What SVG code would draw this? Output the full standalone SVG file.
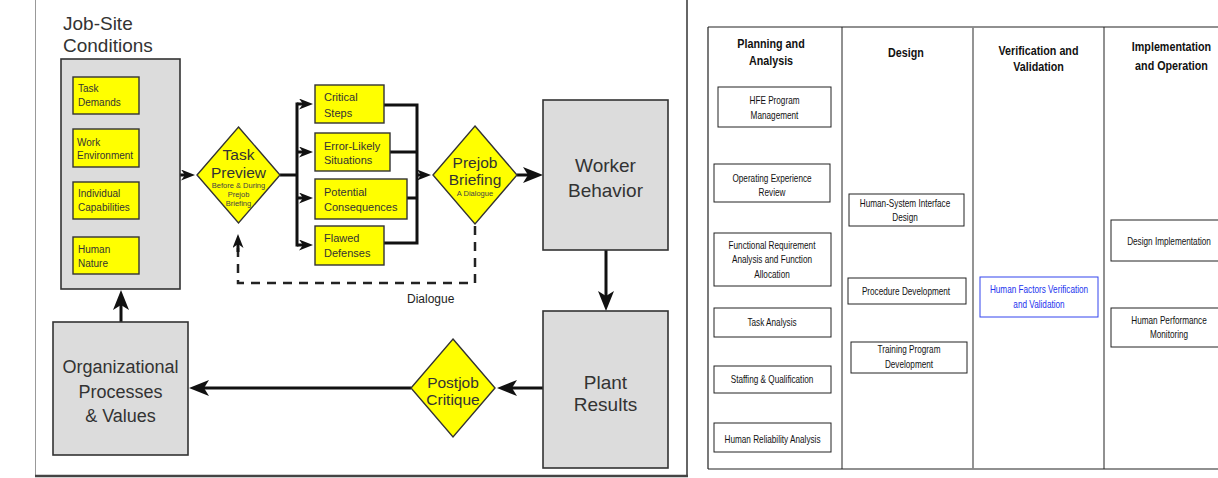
<svg xmlns="http://www.w3.org/2000/svg" width="1218" height="478" viewBox="0 0 1218 478">
  <style>
    .gray { fill: #dcdcdc; stroke: #333; stroke-width: 1.6; }
    .yel { fill: #ffff00; stroke: #333; stroke-width: 1.4; }
    .big { font-family: "Liberation Sans", Arial, sans-serif; font-size: 19px; fill: #333; }
    .big2 { font-family: "Liberation Sans", Arial, sans-serif; font-size: 18px; fill: #333; }
    .mid { font-family: "Liberation Sans", Arial, sans-serif; font-size: 15.5px; fill: #333; }
    .sm { font-family: "Liberation Sans", Arial, sans-serif; font-size: 10px; fill: #333; }
    .sm2 { font-family: "Liberation Sans", Arial, sans-serif; font-size: 11px; fill: #333; }
    .tiny { font-family: "Liberation Sans", Arial, sans-serif; font-size: 7.5px; fill: #444; }
    .lbl { font-family: "Liberation Sans", Arial, sans-serif; font-size: 12px; fill: #222; }
    .wire { fill: none; stroke: #111; stroke-width: 3; }
    .dash { fill: none; stroke: #222; stroke-width: 2.5; stroke-dasharray: 9 7; }
    .cell { fill: #fff; stroke: #222; stroke-width: 1; }
    .cellb { fill: #fff; stroke: #3344ee; stroke-width: 1; }
    .hd { font-family: "Liberation Sans", Arial, sans-serif; font-size: 12.5px; font-weight: bold; fill: #111; text-anchor: middle; }
    .bt { font-family: "Liberation Sans", Arial, sans-serif; font-size: 10px; fill: #111; text-anchor: middle; }
    .btb { font-family: "Liberation Sans", Arial, sans-serif; font-size: 10px; fill: #2233ee; text-anchor: middle; }
    .c { text-anchor: middle; }
  </style>
  <defs>
    <marker id="ah" markerUnits="userSpaceOnUse" markerWidth="20" markerHeight="16" viewBox="0 0 20 16" refX="12" refY="8" orient="auto">
      <path d="M0,0 L20,8 L0,16 L5,8 z" fill="#111"/>
    </marker>
    <marker id="ahs" markerUnits="userSpaceOnUse" markerWidth="14" markerHeight="11" viewBox="0 0 14 11" refX="8" refY="5.5" orient="auto">
      <path d="M0,0 L14,5.5 L0,11 L4,5.5 z" fill="#111"/>
    </marker>
  </defs>

  <rect width="1218" height="478" fill="#fff"/>

  <!-- left panel frame -->
  <g id="left-frame">
    <line x1="35.5" y1="0" x2="35.5" y2="477" stroke="#999" stroke-width="1"/>
    <line x1="687" y1="0" x2="687" y2="477" stroke="#333" stroke-width="1.5"/>
    <line x1="35" y1="476" x2="688" y2="476" stroke="#444" stroke-width="2.5"/>
  </g>

  <!-- connectors -->
  <g id="connectors">
    <path class="wire" d="M139,95 H167 M139,148 H167 M139,200 H167 M139,255 H167 M167,93.5 V256.5"/>
    <path class="wire" d="M167,175 H189" marker-end="url(#ahs)"/>
    <path class="wire" d="M280,175 H297 M297,102.5 V246.5"/>
    <path class="wire" d="M297,104 H307" marker-end="url(#ahs)"/>
    <path class="wire" d="M297,152 H307" marker-end="url(#ahs)"/>
    <path class="wire" d="M297,198 H307" marker-end="url(#ahs)"/>
    <path class="wire" d="M297,245 H307" marker-end="url(#ahs)"/>
    <path class="wire" d="M384,105 H417 M390,152 H417 M407,198 H417 M384,243 H417 M417,103.5 V244.5"/>
    <path class="wire" d="M417,175 H425" marker-end="url(#ahs)"/>
    <path class="wire" d="M517,175 H535" marker-end="url(#ah)"/>
    <path class="wire" d="M606,250 V303" marker-end="url(#ah)"/>
    <path class="wire" d="M543,388 H505" marker-end="url(#ah)"/>
    <path class="wire" d="M411,388 H197" marker-end="url(#ah)"/>
    <path class="wire" d="M121,322 V298" marker-end="url(#ah)"/>
    <path class="dash" d="M475,226 V283 H238 V245"/>
    <path class="wire" d="M238,252 V240" marker-end="url(#ahs)"/>
    <text class="lbl" x="407" y="303">Dialogue</text>
  </g>

  <!-- Job-Site Conditions container -->
  <g id="job-site">
    <text class="big" x="63" y="30">Job-Site</text>
    <text class="big" x="63" y="52">Conditions</text>
    <rect class="gray" x="61" y="59" width="119" height="230"/>
  </g>
  <g id="task-demands">
    <rect class="yel" x="73" y="77" width="66" height="37"/>
    <text class="sm" x="78" y="92">Task</text>
    <text class="sm" x="78" y="106">Demands</text>
  </g>
  <g id="work-environment">
    <rect class="yel" x="73" y="129" width="66" height="38"/>
    <text class="sm" x="77" y="145.5">Work</text>
    <text class="sm" x="77" y="159">Environment</text>
  </g>
  <g id="individual-capabilities">
    <rect class="yel" x="73" y="182" width="66" height="37"/>
    <text class="sm" x="78" y="197">Individual</text>
    <text class="sm" x="78" y="211">Capabilities</text>
  </g>
  <g id="human-nature">
    <rect class="yel" x="73" y="237" width="66" height="37"/>
    <text class="sm" x="78" y="253">Human</text>
    <text class="sm" x="78" y="267">Nature</text>
  </g>

  <!-- Task Preview decision -->
  <g id="task-preview">
    <polygon class="yel" points="238.5,127 280,175 238.5,223 197,175"/>
    <text class="mid c" x="238.5" y="160">Task</text>
    <text class="mid c" x="238.5" y="178">Preview</text>
    <text class="tiny c" x="238.5" y="188">Before &amp; During</text>
    <text class="tiny c" x="238.5" y="197">Prejob</text>
    <text class="tiny c" x="238.5" y="206">Briefing</text>
  </g>

  <!-- precursor boxes -->
  <g id="critical-steps">
    <rect class="yel" x="315" y="85" width="69" height="38"/>
    <text class="sm2" x="324" y="101">Critical</text>
    <text class="sm2" x="324" y="117">Steps</text>
  </g>
  <g id="error-likely">
    <rect class="yel" x="315" y="133" width="75" height="38"/>
    <text class="sm2" x="324" y="150">Error-Likely</text>
    <text class="sm2" x="324" y="164">Situations</text>
  </g>
  <g id="potential-consequences">
    <rect class="yel" x="315" y="179" width="92" height="40"/>
    <text class="sm2" x="324" y="196">Potential</text>
    <text class="sm2" x="324" y="211">Consequences</text>
  </g>
  <g id="flawed-defenses">
    <rect class="yel" x="315" y="226" width="69" height="39"/>
    <text class="sm2" x="324" y="242">Flawed</text>
    <text class="sm2" x="324" y="257">Defenses</text>
  </g>

  <!-- Prejob Briefing decision -->
  <g id="prejob-briefing">
    <polygon class="yel" points="475,126 517,175 475,224 433,175"/>
    <text class="mid c" x="475" y="168">Prejob</text>
    <text class="mid c" x="475" y="185">Briefing</text>
    <text class="tiny c" x="475" y="196">A Dialogue</text>
  </g>

  <g id="worker-behavior">
    <rect class="gray" x="543" y="100" width="125" height="150"/>
    <text class="big c" x="605.5" y="172">Worker</text>
    <text class="big c" x="605.5" y="197">Behavior</text>
  </g>

  <g id="plant-results">
    <rect class="gray" x="543" y="311" width="125" height="157"/>
    <text class="big c" x="605.5" y="389">Plant</text>
    <text class="big c" x="605.5" y="411">Results</text>
  </g>

  <g id="postjob-critique">
    <polygon class="yel" points="453,339 495,388 453,437 411,388"/>
    <text class="mid c" x="453" y="388">Postjob</text>
    <text class="mid c" x="453" y="405">Critique</text>
  </g>

  <g id="organizational">
    <rect class="gray" x="53" y="322" width="135" height="133"/>
    <text class="big2 c" x="120.5" y="373">Organizational</text>
    <text class="big2 c" x="120.5" y="398">Processes</text>
    <text class="big2 c" x="120.5" y="422">&amp; Values</text>
  </g>

  <!-- HFE program table -->
  <g id="table-grid" fill="none">
    <path d="M708,27 H1218 M708,27 V469 M708,469 H1218" stroke="#222" stroke-width="1.2"/>
    <line x1="842" y1="27" x2="842" y2="469" stroke="#222" stroke-width="1"/>
    <line x1="973" y1="27" x2="973" y2="469" stroke="#888" stroke-width="1.8"/>
    <line x1="1104" y1="27" x2="1104" y2="469" stroke="#222" stroke-width="1"/>
  </g>
  <!-- column headings, condensed horizontally -->
  <g id="headers">
    <text class="hd" transform="translate(771,48) scale(0.86,1)">Planning and</text>
    <text class="hd" transform="translate(771,65) scale(0.86,1)">Analysis</text>
    <text class="hd" transform="translate(906,57) scale(0.86,1)">Design</text>
    <text class="hd" transform="translate(1038.5,55) scale(0.86,1)">Verification and</text>
    <text class="hd" transform="translate(1038.5,71) scale(0.86,1)">Validation</text>
    <text class="hd" transform="translate(1171.5,51) scale(0.86,1)">Implementation</text>
    <text class="hd" transform="translate(1171.5,70) scale(0.86,1)">and Operation</text>
  </g>

  <g id="hfe-program-management">
    <rect class="cell" x="718" y="87" width="113" height="40"/>
    <text class="bt" transform="translate(774.5,104) scale(0.82,1)">HFE Program</text>
    <text class="bt" transform="translate(774.5,119) scale(0.82,1)">Management</text>
  </g>
  <g id="operating-experience-review">
    <rect class="cell" x="714" y="164" width="116" height="38"/>
    <text class="bt" transform="translate(772,182) scale(0.82,1)">Operating Experience</text>
    <text class="bt" transform="translate(772,196) scale(0.82,1)">Review</text>
  </g>
  <g id="functional-requirement">
    <rect class="cell" x="714" y="233" width="117" height="53"/>
    <text class="bt" transform="translate(772,249) scale(0.82,1)">Functional Requirement</text>
    <text class="bt" transform="translate(772,263) scale(0.82,1)">Analysis and Function</text>
    <text class="bt" transform="translate(772,278) scale(0.82,1)">Allocation</text>
  </g>
  <g id="task-analysis">
    <rect class="cell" x="714" y="308" width="117" height="29"/>
    <text class="bt" transform="translate(772,326) scale(0.82,1)">Task Analysis</text>
  </g>
  <g id="staffing-qualification">
    <rect class="cell" x="714" y="366" width="117" height="27"/>
    <text class="bt" transform="translate(772,383) scale(0.82,1)">Staffing &amp; Qualification</text>
  </g>
  <g id="human-reliability-analysis">
    <rect class="cell" x="714" y="423" width="117" height="29"/>
    <text class="bt" transform="translate(772.5,443) scale(0.82,1)">Human Reliability Analysis</text>
  </g>

  <g id="hsi-design">
    <rect class="cell" x="849" y="194" width="115" height="32"/>
    <text class="bt" transform="translate(905,207) scale(0.82,1)">Human-System Interface</text>
    <text class="bt" transform="translate(905,221) scale(0.82,1)">Design</text>
  </g>
  <g id="procedure-development">
    <rect class="cell" x="848" y="278" width="118" height="26"/>
    <text class="bt" transform="translate(906,295) scale(0.82,1)">Procedure Development</text>
  </g>
  <g id="training-program-development">
    <rect class="cell" x="851" y="342" width="116" height="31"/>
    <text class="bt" transform="translate(909,353) scale(0.82,1)">Training Program</text>
    <text class="bt" transform="translate(909,368) scale(0.82,1)">Development</text>
  </g>

  <g id="hf-verification-validation">
    <rect class="cellb" x="980" y="277" width="118" height="40"/>
    <text class="btb" transform="translate(1039,293) scale(0.82,1)">Human Factors Verification</text>
    <text class="btb" transform="translate(1039,308) scale(0.82,1)">and Validation</text>
  </g>

  <g id="design-implementation">
    <rect class="cell" x="1111" y="220" width="120" height="41"/>
    <text class="bt" transform="translate(1169,245) scale(0.82,1)">Design Implementation</text>
  </g>
  <g id="human-performance-monitoring">
    <rect class="cell" x="1111" y="308" width="120" height="39"/>
    <text class="bt" transform="translate(1169,324) scale(0.82,1)">Human Performance</text>
    <text class="bt" transform="translate(1169,338) scale(0.82,1)">Monitoring</text>
  </g>
</svg>
